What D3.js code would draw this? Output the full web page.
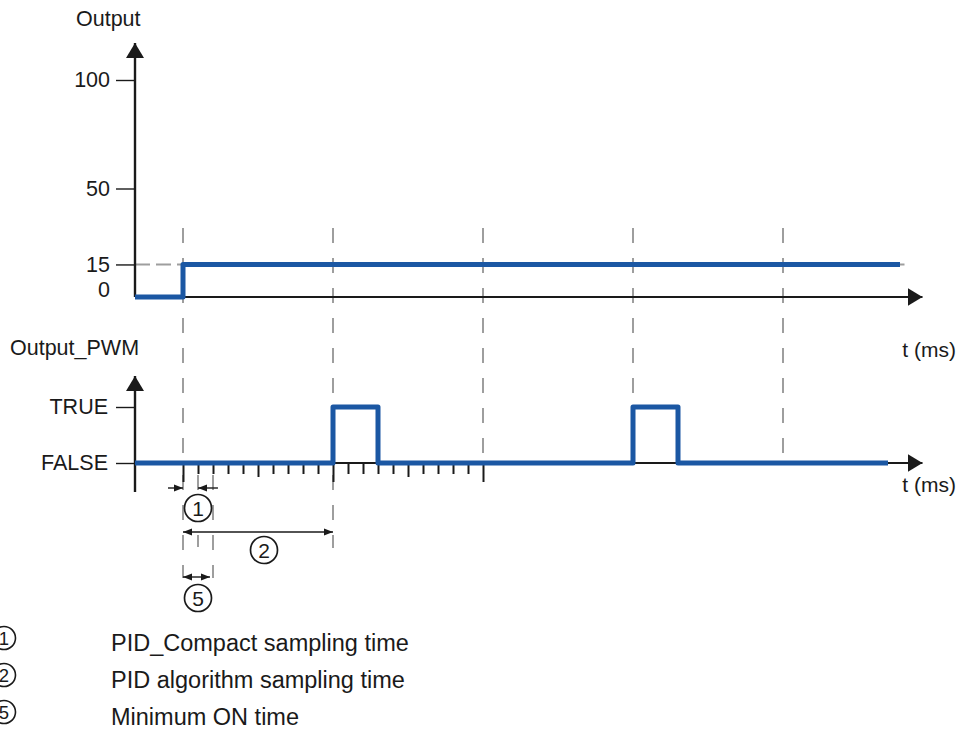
<!DOCTYPE html>
<html>
<head>
<meta charset="utf-8">
<script src="https://cdn.jsdelivr.net/npm/d3@7"></script>
<style>
  body { margin: 0; background: #fff; }
  text { font-family: Arial, "Liberation Sans", sans-serif; fill: #1a1a1a; }
</style>
</head>
<body>
<svg width="959" height="735"></svg>
<script>
// time in ms, PID_Compact cycle = 100 ms, PID algorithm cycle = 1000 ms
var outputTicks = [0, 15, 50, 100];
var outputSteps = [[0, 0], [320, 0], [320, 15], [5100, 15]];
var pwmStates = ["FALSE", "TRUE"];
var pwmSteps = [[0, 0], [1320, 0], [1320, 1], [1620, 1], [1620, 0],
  [3320, 0], [3320, 1], [3620, 1], [3620, 0], [5020, 0]];
var algoCycles = [320, 1320, 2320, 3320, 4320];
var compactCycles = [320, 420, 520, 620, 720, 820, 920, 1020, 1120, 1220, 1320,
  1420, 1520, 1620, 1720, 1820, 1920, 2020, 2120, 2220, 2320];
var legendItems = [
  { n: "1", text: "PID_Compact sampling time" },
  { n: "2", text: "PID algorithm sampling time" },
  { n: "5", text: "Minimum ON time" }
];

var svg = d3.select("svg");
var blue = "#1b57a3", ink = "#1a1a1a", grey = "#9e9e9e";

var x = d3.scaleLinear().domain([0, 5250]).range([135, 922.5]);
var yOut = d3.scaleLinear().domain([0, 100]).range([297, 80]);
var yPwm = d3.scaleLinear().domain([0, 1]).range([463, 407]);

var defs = svg.append("defs");
defs.append("marker").attr("id", "bigArrow")
  .attr("viewBox", "0 -9 15 18").attr("refX", 15).attr("refY", 0)
  .attr("markerUnits", "userSpaceOnUse").attr("markerWidth", 15).attr("markerHeight", 18)
  .attr("orient", "auto")
  .append("path").attr("d", "M0,-9L15,0L0,9Z").attr("fill", ink);
defs.append("marker").attr("id", "smallArrow")
  .attr("viewBox", "0 -4 9 8").attr("refX", 9).attr("refY", 0)
  .attr("markerUnits", "userSpaceOnUse").attr("markerWidth", 9).attr("markerHeight", 8)
  .attr("orient", "auto-start-reverse")
  .append("path").attr("d", "M0,-3.5L9,0L0,3.5Z").attr("fill", ink);

// vertical guides at PID algorithm cycles
svg.append("g").selectAll("line").data(algoCycles).enter().append("line")
  .attr("x1", d => x(d)).attr("x2", d => x(d))
  .attr("y1", 228).attr("y2", 458)
  .attr("stroke", grey).attr("stroke-width", 2).attr("stroke-dasharray", "15,15");

// guides under the pwm axis for the annotations
var lowGuides = [{ t: 320, end: 578 }, { t: 420, end: 547 }, { t: 520, end: 578 }, { t: 1320, end: 548 }];
svg.append("g").selectAll("line").data(lowGuides).enter().append("line")
  .attr("x1", d => x(d.t)).attr("x2", d => x(d.t))
  .attr("y1", 475).attr("y2", d => d.end)
  .attr("stroke", grey).attr("stroke-width", 2).attr("stroke-dasharray", "15,15");

// 15 % reference
svg.append("line")
  .attr("x1", x(0)).attr("x2", x(5130))
  .attr("y1", yOut(15)).attr("y2", yOut(15))
  .attr("stroke", grey).attr("stroke-width", 2).attr("stroke-dasharray", "15,6");

// axes lines with arrows
svg.append("line").attr("x1", x(0)).attr("y1", yOut(0)).attr("x2", x(0)).attr("y2", 43)
  .attr("stroke", ink).attr("stroke-width", 2.4).attr("marker-end", "url(#bigArrow)");
svg.append("line").attr("x1", x(0)).attr("y1", yOut(0)).attr("x2", x(5250)).attr("y2", yOut(0))
  .attr("stroke", ink).attr("stroke-width", 2.2).attr("marker-end", "url(#bigArrow)");
svg.append("line").attr("x1", x(0)).attr("y1", 492).attr("x2", x(0)).attr("y2", 376)
  .attr("stroke", ink).attr("stroke-width", 2.4).attr("marker-end", "url(#bigArrow)");
svg.append("line").attr("x1", x(0)).attr("y1", yPwm(0)).attr("x2", x(5250)).attr("y2", yPwm(0))
  .attr("stroke", ink).attr("stroke-width", 2.2).attr("marker-end", "url(#bigArrow)");

// y axes
var gOut = svg.append("g").attr("transform", "translate(" + x(0) + ",0)")
  .call(d3.axisLeft(yOut).tickValues(outputTicks).tickSize(19).tickPadding(6));
gOut.select(".domain").remove();
gOut.selectAll(".tick").filter(d => d === 0).select("line").remove();
gOut.selectAll(".tick").filter(d => d === 0).select("text").attr("y", -7);

var gPwm = svg.append("g").attr("transform", "translate(" + x(0) + ",0)")
  .call(d3.axisLeft(yPwm).tickValues([0, 1]).tickFormat(d => pwmStates[d]).tickSize(19).tickPadding(8));
gPwm.select(".domain").remove();

[gOut, gPwm].forEach(function (g) {
  g.attr("font-size", null).attr("font-family", null).attr("color", ink);
  g.selectAll("text").style("font-size", "21.5px");
  g.selectAll("line").attr("stroke-width", 1.4);
});

// pwm cycle ticks
var gT = svg.append("g").attr("transform", "translate(0," + yPwm(0) + ")")
  .call(d3.axisBottom(x).tickValues(compactCycles).tickSize(11).tickFormat(""));
gT.select(".domain").remove();
gT.attr("color", ink);
gT.selectAll(".tick line").attr("stroke-width", 2)
  .attr("y2", function (d) {
    if (algoCycles.indexOf(d) >= 0) return 19;
    if ((d - 820) % 1000 === 0) return 14;
    return 11;
  });

// signals
var line = d3.line().x(d => x(d[0]));
svg.append("path").datum(outputSteps)
  .attr("d", line.y(d => yOut(d[1])))
  .attr("fill", "none").attr("stroke", blue).attr("stroke-width", 5).attr("stroke-linejoin", "round");
svg.append("path").datum(pwmSteps)
  .attr("d", line.y(d => yPwm(d[1])))
  .attr("fill", "none").attr("stroke", blue).attr("stroke-width", 5).attr("stroke-linejoin", "round");

// labels
svg.append("text").attr("x", 76).attr("y", 26).style("font-size", "21.5px").text("Output");
svg.append("text").attr("x", 10).attr("y", 355).style("font-size", "21.5px").text("Output_PWM");
svg.append("text").attr("x", 956).attr("y", 357).attr("text-anchor", "end").style("font-size", "21px").text("t (ms)");
svg.append("text").attr("x", 956).attr("y", 492).attr("text-anchor", "end").style("font-size", "21px").text("t (ms)");

// annotations
function arrow(x1, x2, y, start, end) {
  var l = svg.append("line").attr("x1", x1).attr("x2", x2).attr("y1", y).attr("y2", y)
    .attr("stroke", ink).attr("stroke-width", 1.4);
  if (start) l.attr("marker-start", "url(#smallArrow)");
  if (end) l.attr("marker-end", "url(#smallArrow)");
}
arrow(x(220), x(320), 488, false, true);
arrow(x(553), x(420), 488, false, true);
arrow(x(320), x(1320), 532, true, true);
arrow(x(320), x(500), 577, true, true);

var marks = [{ n: "1", t: 420, y: 508 }, { n: "2", t: 860, y: 550 }, { n: "5", t: 420, y: 598 }];
var gm = svg.append("g").selectAll("g").data(marks).enter().append("g")
  .attr("transform", d => "translate(" + x(d.t) + "," + d.y + ")");
gm.append("circle").attr("r", 13.5).attr("fill", "#fff").attr("stroke", ink).attr("stroke-width", 1.7);
gm.append("text").attr("text-anchor", "middle").attr("dy", "0.36em").style("font-size", "21px").text(d => d.n);

// legend
var gl = svg.append("g").selectAll("g").data(legendItems).enter().append("g")
  .attr("transform", (d, i) => "translate(0," + (651 + i * 37) + ")");
gl.append("circle").attr("cx", 4).attr("cy", -13).attr("r", 11.5)
  .attr("fill", "#fff").attr("stroke", ink).attr("stroke-width", 1.6);
gl.append("text").attr("x", 4).attr("y", -13).attr("dy", "0.36em").attr("text-anchor", "middle")
  .style("font-size", "18.5px").text(d => d.n);
gl.append("text").attr("x", 111).attr("y", 0).style("font-size", "23.5px").text(d => d.text);
</script>
</body>
</html>
